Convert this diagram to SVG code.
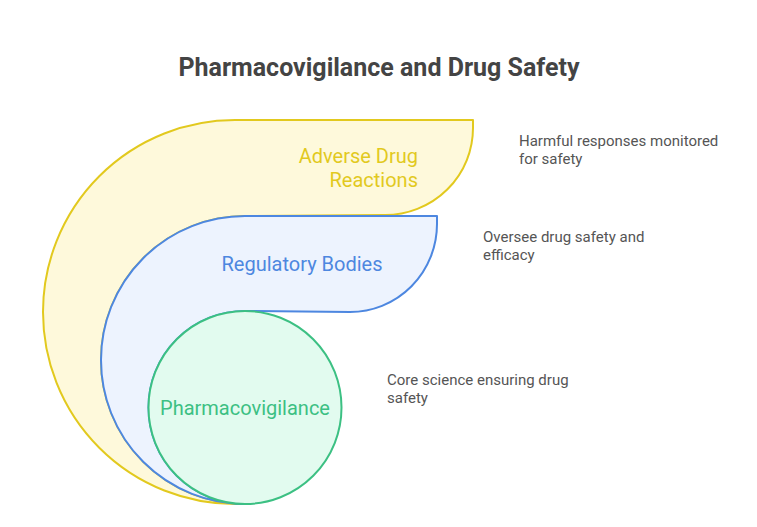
<svg xmlns="http://www.w3.org/2000/svg" width="757" height="527" viewBox="0 0 757 527">
<style>
.title{font-family:Roboto,"Liberation Sans",sans-serif;font-size:25px;font-weight:bold;fill:#444444}
.desc{font-family:Roboto,"Liberation Sans",sans-serif;font-size:15px;fill:#555555}
.lbl{font-family:Roboto,"Liberation Sans",sans-serif;font-size:20px}
.sh{stroke-width:2;stroke-linejoin:round}
</style>
<rect width="757" height="527" fill="#ffffff"/>
<text class="title" x="379" y="76" text-anchor="middle">Pharmacovigilance and Drug Safety</text>
<g id="adverse-drug-reactions">
<path class="sh" fill="#FEF9DB" stroke="#E2C91E" d="M235,120 L473,120 L473,128 A88,87 0 0 1 385,215 L245,216 A144,144 0 0 0 245,504 L235,504 A192,192 0 0 1 235,120 Z"/>
<text class="lbl" fill="#E2C91E" text-anchor="end"><tspan x="418" y="163">Adverse Drug</tspan><tspan x="418" y="187">Reactions</tspan></text>
</g>
<g id="regulatory-bodies">
<path class="sh" fill="#EDF3FE" stroke="#4D87E0" d="M245,216 L437,216 L437,224 A87,88 0 0 1 350,312 L245,311 A96.5,96.5 0 0 0 245,504 A144,144 0 0 1 245,216 Z"/>
<text class="lbl" fill="#4D87E0" x="302" y="271" text-anchor="middle">Regulatory Bodies</text>
</g>
<g id="pharmacovigilance">
<circle class="sh" cx="245" cy="407.5" r="96.5" fill="#E2FBEF" stroke="#3CC083"/>
<text class="lbl" fill="#3CC083" x="245" y="415" text-anchor="middle">Pharmacovigilance</text>
</g>
<g id="connectors"></g>
<g id="descriptions">
<text class="desc"><tspan x="519" y="146">Harmful responses monitored</tspan><tspan x="519" y="164">for safety</tspan></text>
<text class="desc"><tspan x="483" y="242">Oversee drug safety and</tspan><tspan x="483" y="260">efficacy</tspan></text>
<text class="desc"><tspan x="387" y="385">Core science ensuring drug</tspan><tspan x="387" y="403">safety</tspan></text>
</g>
</svg>
